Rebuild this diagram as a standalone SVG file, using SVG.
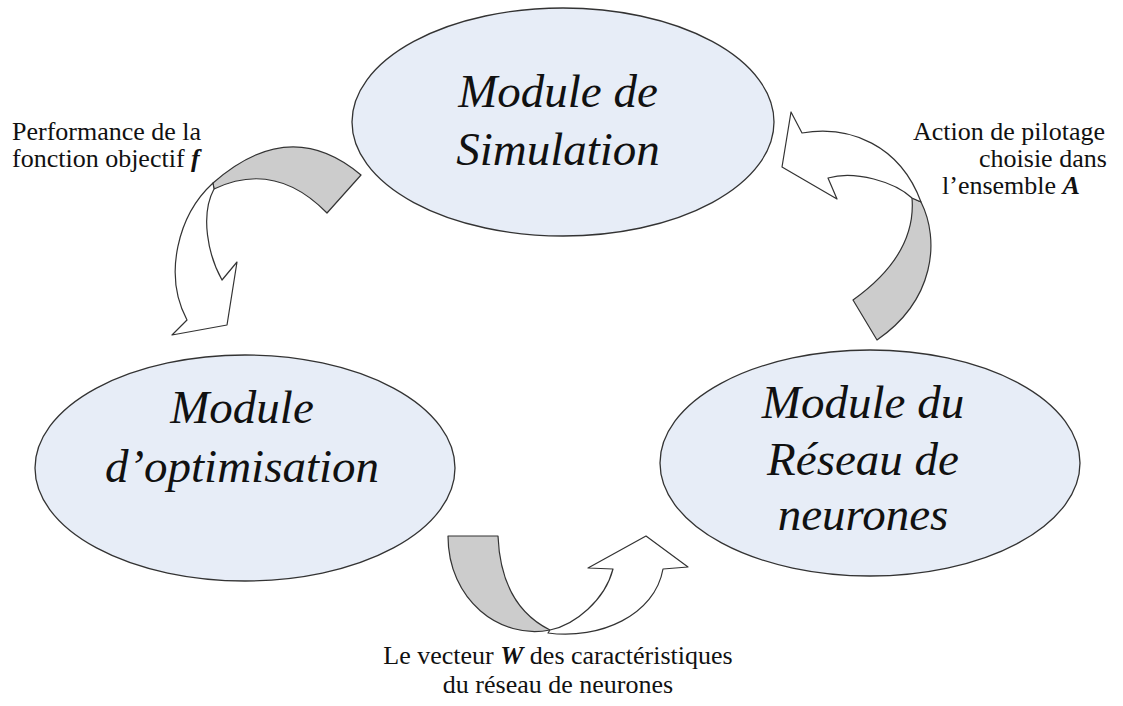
<svg xmlns="http://www.w3.org/2000/svg" width="1123" height="706" viewBox="0 0 1123 706">
<style>
.node{fill:#e7edf7;stroke:#333;stroke-width:1.3}
.mod{font-family:"Liberation Serif","Times New Roman",serif;font-style:italic;font-size:47px;fill:#111;text-anchor:middle}
.lbl{font-family:"Liberation Serif","Times New Roman",serif;font-size:26px;fill:#111}
.bi{font-weight:bold;font-style:italic}
.gray{fill:#cccccc;stroke:#333;stroke-width:1.2;stroke-linejoin:round}
.white{fill:#ffffff;stroke:#333;stroke-width:1.2;stroke-linejoin:round}
</style>
<rect width="1123" height="706" fill="#fff"/>
<g id="simulation">
<ellipse class="node" cx="563" cy="122" rx="211" ry="114"/>
<text class="mod"><tspan x="558" y="107">Module de</tspan><tspan x="558" y="165">Simulation</tspan></text>
</g>
<g id="optimisation">
<ellipse class="node" cx="245" cy="468" rx="210" ry="113"/>
<text class="mod"><tspan x="242" y="423">Module</tspan><tspan x="242" y="482">d’optimisation</tspan></text>
</g>
<g id="reseau">
<ellipse class="node" cx="870" cy="463" rx="210" ry="113"/>
<text class="mod"><tspan x="863" y="418">Module du</tspan><tspan x="863" y="475">Réseau de</tspan><tspan x="863" y="530">neurones</tspan></text>
</g>
<g id="connectors">
<g id="arrow-sim-opt">
<path class="gray" d="M361,175 Q290,115 213,183 L214,189 Q275,160 327,213 Z"/>
<path class="white" d="M213,183 C178,215 163,275 187,320 L172,335 L227,325 L237,262 L222,280 C208,255 200,215 214,189 Z"/>
</g>
<g id="arrow-res-sim">
<path class="gray" d="M912,198 L921,202 C940,240 935,300 877,340 L853,300 C895,270 915,235 912,198 Z"/>
<path class="white" d="M921,202 C900,145 850,125 802,133 L791,112 L782,167 L837,199 L828,178 C855,170 895,182 912,198 Z"/>
</g>
<g id="arrow-opt-res">
<path class="gray" d="M448,536 L498,536 C500,585 520,615 550,630 C500,640 448,600 448,536 Z"/>
<path class="white" d="M550,630 C575,625 605,600 613,569 L588,568 L646,536 L688,567 L663,569 C655,615 600,640 548,633 Z"/>
</g>
</g>
<g id="labels">
<text class="lbl"><tspan x="12" y="140">Performance de la</tspan><tspan x="12" y="167">fonction objectif <tspan class="bi">f</tspan></tspan></text>
<text class="lbl"><tspan x="913" y="140">Action de pilotage</tspan><tspan x="979" y="167">choisie dans</tspan><tspan x="942" y="194">l’ensemble <tspan class="bi">A</tspan></tspan></text>
<text class="lbl" text-anchor="middle"><tspan x="558" y="664">Le vecteur <tspan class="bi">W</tspan> des caractéristiques</tspan><tspan x="558" y="693">du réseau de neurones</tspan></text>
</g>
</svg>
